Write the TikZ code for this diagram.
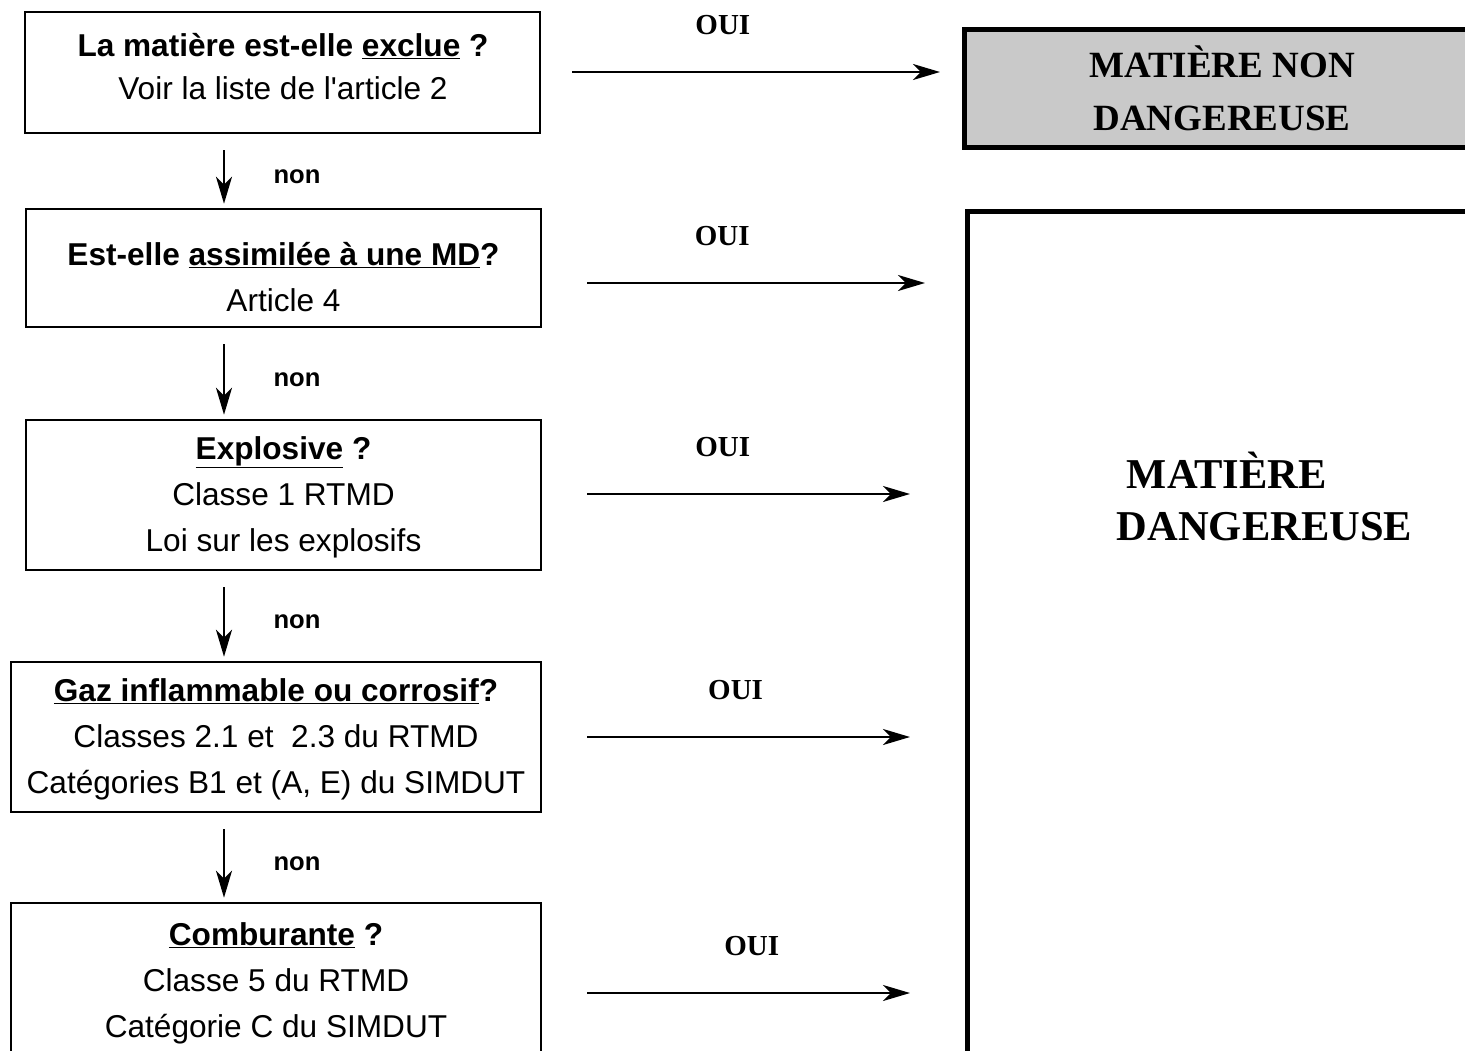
\documentclass[tikz,border=0pt]{standalone}
\usepackage{fontspec}
\setmainfont{Liberation Sans}
\newfontfamily\serifbf{Liberation Serif}
\usetikzlibrary{arrows.meta,calc,positioning}

\tikzset{
	qbox/.style={draw, line width=2.5pt, inner sep=0pt},
	qtext/.style={align=center, font=\fontsize{31.6}{46}\selectfont},
	verdict/.style={draw, line width=5pt, inner sep=0pt},
	narr/.style={-{Stealth[length=27pt,width=16pt,inset=8pt]}, line width=2.5pt},
	nonlab/.style={font=\fontsize{25.6}{30}\selectfont\bfseries},
	ouilab/.style={font=\serifbf\bfseries\fontsize{29}{34}\selectfont}
}

\begin{document}
\begin{tikzpicture}[x=1pt,y=-1pt]
	\path[use as bounding box, clip] (0,0) rectangle (1465,1050);

	% questions
	\node[qbox, minimum width=515pt, minimum height=121pt] (q1) at (282.5,72.5) {};
	\node[qbox, minimum width=515pt, minimum height=118pt] (q2) at (283.5,268) {};
	\node[qbox, minimum width=515pt, minimum height=150pt] (q3) at (283.5,495) {};
	\node[qbox, minimum width=530pt, minimum height=150pt] (q4) at (276,737) {};
	\node[qbox, minimum width=530pt, minimum height=250pt] (q5) at (276,1028) {};

	\node[qtext] (t1) at (283,66.5) {\textbf{La matière est-elle \underline{exclue} ?}\\[-3pt]Voir la liste de l\textquotesingle article 2};
	\node[qtext] (t2) at (283.5,277.5) {\textbf{Est-elle \underline{assimilée à une MD}?}\\Article 4};
	\node[qtext] (t3) at (283.5,497.5) {\textbf{\underline{Explosive} ?}\\Classe 1 RTMD\\Loi sur les explosifs};
	\node[qtext] (t4) at (276,739) {\textbf{\underline{Gaz inflammable ou corrosif}?}\\Classes 2.1 et\ \ 2.3 du RTMD\\Catégories B1 et (A, E) du SIMDUT};
	\node[qtext] (t5) at (276,983) {\textbf{\underline{Comburante} ?}\\Classe 5 du RTMD\\Catégorie C du SIMDUT};

	% verdicts
	\node[verdict, fill=black!21, minimum width=515.5pt, minimum height=118pt, align=center,
		font=\serifbf\bfseries\fontsize{37}{53}\selectfont] (nd) at (1222,88) {MATIÈRE NON\\DANGEREUSE};
	\node[verdict, minimum width=515.5pt, minimum height=1000pt, anchor=north west] (md) at (964.5,209) {};
	\node[align=left, font=\serifbf\bfseries\fontsize{42.5}{52}\selectfont] (mdt) at (1264.5,496)
		{\hspace*{10pt}MATIÈRE\\DANGEREUSE};

	% non
	\coordinate (spine) at (224,0);
	\path[narr]
	($(q1.south -| spine)+(0,16)$) edge node[nonlab, right=45pt] {non} ($(q2.north -| spine)+(0,-4)$)
	($(q2.south -| spine)+(0,16)$) edge node[nonlab, right=45pt] {non} ($(q3.north -| spine)+(0,-4)$)
	($(q3.south -| spine)+(0,16)$) edge node[nonlab, right=45pt] {non} ($(q4.north -| spine)+(0,-4)$)
	($(q4.south -| spine)+(0,16)$) edge node[nonlab, right=45pt] {non} ($(q5.north -| spine)+(0,-4)$);

	% oui
	\coordinate (o1) at (572,72);  \coordinate (e1) at (940,72);
	\coordinate (o2) at (587,283); \coordinate (e2) at (925,283);
	\coordinate (o3) at (587,494); \coordinate (e3) at (910,494);
	\coordinate (o4) at (587,737); \coordinate (e4) at (910,737);
	\coordinate (o5) at (587,993); \coordinate (e5) at (910,993);
	\path[narr]
	(o1) edge node[ouilab, pos=.41, above=33pt] {OUI} (e1)
	(o2) edge node[ouilab, pos=.40, above=33pt] {OUI} (e2)
	(o3) edge node[ouilab, pos=.42, above=33pt] {OUI} (e3)
	(o4) edge node[ouilab, pos=.46, above=33pt] {OUI} (e4)
	(o5) edge node[ouilab, pos=.51, above=33pt] {OUI} (e5);
\end{tikzpicture}
\end{document}
